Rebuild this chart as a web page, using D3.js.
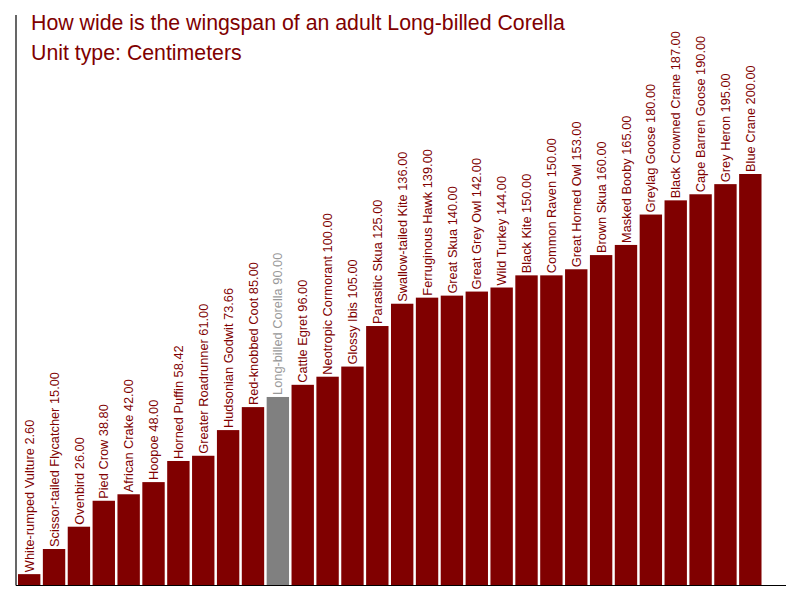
<!DOCTYPE html>
<html>
<head>
<meta charset="utf-8">
<script src="https://cdn.jsdelivr.net/npm/d3@7"></script>
<style>
body { margin: 0; background: #fff; }
text { font-family: "Liberation Sans", Arial, sans-serif; }
</style>
</head>
<body>
<svg id="chart" width="800" height="600"></svg>
<script>
const titleLines = ["How wide is the wingspan of an adult Long-billed Corella", "Unit type: Centimeters"];
const categories = ["White-rumped Vulture", "Scissor-tailed Flycatcher", "Ovenbird", "Pied Crow", "African Crake", "Hoopoe", "Horned Puffin", "Greater Roadrunner", "Hudsonian Godwit", "Red-knobbed Coot", "Long-billed Corella", "Cattle Egret", "Neotropic Cormorant", "Glossy Ibis", "Parasitic Skua", "Swallow-tailed Kite", "Ferruginous Hawk", "Great Skua", "Great Grey Owl", "Wild Turkey", "Black Kite", "Common Raven", "Great Horned Owl", "Brown Skua", "Masked Booby", "Greylag Goose", "Black Crowned Crane", "Cape Barren Goose", "Grey Heron", "Blue Crane"];
const values = [2.6, 15, 26, 38.8, 42, 48, 58.42, 61, 73.66, 85, 90, 96, 100, 105, 125, 136, 139, 140, 142, 144, 150, 150, 153, 160, 165, 180, 187, 190, 195, 200];
const highlight = "Long-billed Corella";

const svg = d3.select("#chart");
const baseY = 585;
const x = d3.scaleBand().domain(categories).range([16.5, 763]).paddingInner(0.1).paddingOuter(0.06);
const y = d3.scaleLinear().domain([-2.76, 200]).range([baseY, 174]);

const red = "#800000";

svg.selectAll("rect.bar").data(categories).join("rect")
  .attr("class", "bar")
  .attr("x", d => x(d))
  .attr("width", x.bandwidth())
  .attr("y", (d, i) => y(values[i]))
  .attr("height", (d, i) => baseY - y(values[i]))
  .attr("fill", d => d === highlight ? "#808080" : red);

svg.selectAll("text.lbl").data(categories).join("text")
  .attr("class", "lbl")
  .attr("transform", (d, i) => `translate(${x(d) + x.bandwidth() / 2},${y(values[i]) - 2}) rotate(-90)`)
  .attr("dy", "0.36em")
  .attr("font-size", 12.8)
  .attr("fill", d => d === highlight ? "#999999" : red)
  .text((d, i) => `${d} ${values[i].toFixed(2)}`);

// axes lines
svg.append("line").attr("x1", 16).attr("x2", 16).attr("y1", 15).attr("y2", baseY + 0.5)
  .attr("stroke", "#000").attr("stroke-width", 1.2);
svg.append("line").attr("x1", 16).attr("x2", 786).attr("y1", baseY + 0.5).attr("y2", baseY + 0.5)
  .attr("stroke", "#000").attr("stroke-width", 1.2);

svg.selectAll("text.title").data(titleLines).join("text")
  .attr("class", "title")
  .attr("x", 31)
  .attr("y", (d, i) => 30 + i * 29.5)
  .attr("font-size", 21.3)
  .attr("fill", red)
  .text(d => d);
</script>
</body>
</html>
